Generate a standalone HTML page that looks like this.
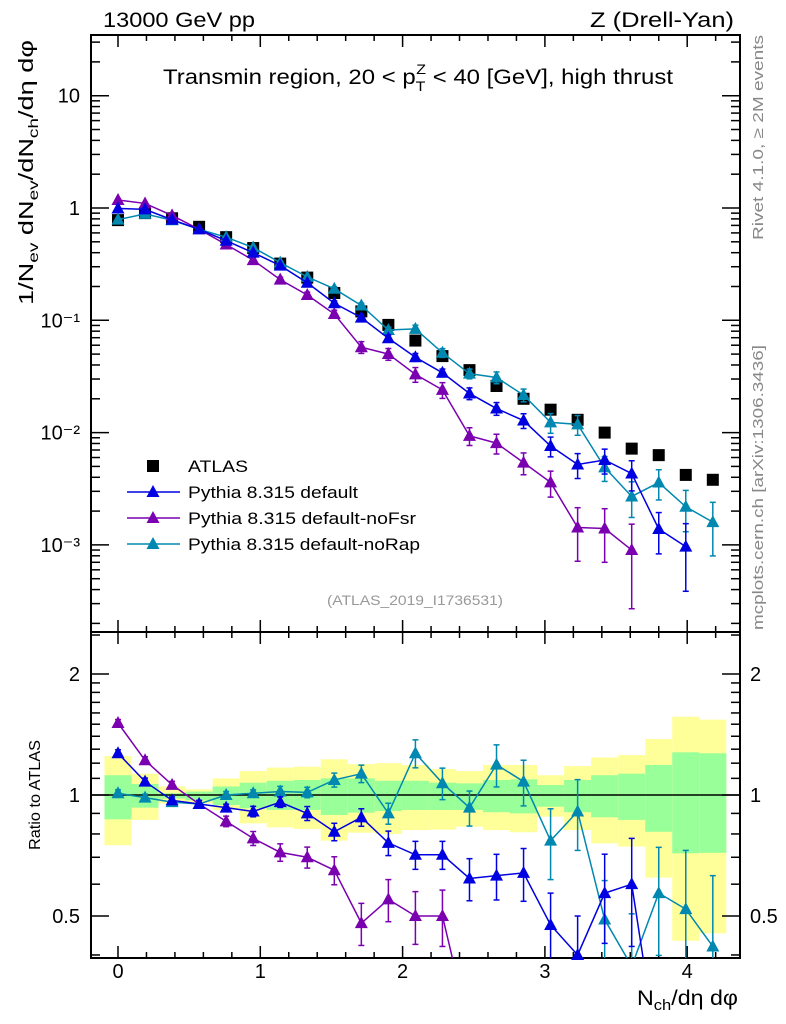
<!DOCTYPE html>
<html><head><meta charset="utf-8"><style>
html,body{margin:0;padding:0;background:#fff;overflow:hidden;width:786px;height:1024px;}
svg{display:block;}
svg text{font-family:"Liberation Sans",sans-serif;}
</style></head><body>
<svg id="chart" width="786" height="1024" xmlns="http://www.w3.org/2000/svg">
<g id="bands"></g>
<g id="grid"></g>
<g id="series"></g>
<text x="103" y="27" font-size="21" textLength="152" lengthAdjust="spacingAndGlyphs">13000 GeV pp</text>
<text x="590" y="27" font-size="21" textLength="144" lengthAdjust="spacingAndGlyphs">Z (Drell-Yan)</text>
<text x="163" y="84" font-size="21" textLength="510" lengthAdjust="spacingAndGlyphs">Transmin region, 20 &lt; p<tspan font-size="14" dy="7">T</tspan><tspan font-size="14" dx="-8" dy="-17">Z</tspan><tspan dy="10"> &lt; 40 [GeV], high thrust</tspan></text>
<text transform="translate(33,305) rotate(-90)" font-size="20" textLength="265" lengthAdjust="spacingAndGlyphs">1/N<tspan font-size="14" dy="5">ev</tspan><tspan dy="-5"> dN</tspan><tspan font-size="14" dy="5">ev</tspan><tspan dy="-5">/dN</tspan><tspan font-size="14" dy="5">ch</tspan><tspan dy="-5">/dη dφ</tspan></text>
<text transform="translate(40,850) rotate(-90)" font-size="16" textLength="110" lengthAdjust="spacingAndGlyphs">Ratio to ATLAS</text>
<text x="637" y="1005" font-size="21" textLength="101" lengthAdjust="spacingAndGlyphs">N<tspan font-size="15" dy="5">ch</tspan><tspan dy="-5">/dη dφ</tspan></text>
<text transform="translate(763,240) rotate(-90)" font-size="15" fill="#888" textLength="205" lengthAdjust="spacingAndGlyphs">Rivet 4.1.0, ≥ 2M events</text>
<text transform="translate(763,630) rotate(-90)" font-size="15" fill="#888" textLength="285" lengthAdjust="spacingAndGlyphs">mcplots.cern.ch [arXiv:1306.3436]</text>
<text x="327" y="605" font-size="14" fill="#999" textLength="176" lengthAdjust="spacingAndGlyphs">(ATLAS_2019_I1736531)</text>
<g id="legend"></g>
</svg>
<script>
const xCenters=[0,0.19,0.38,0.57,0.76,0.95,1.14,1.33,1.52,1.71,1.9,2.09,2.28,2.47,2.66,2.85,3.04,3.23,3.42,3.61,3.8,3.99,4.18];
const atlas=[0.78,0.90,0.81,0.68,0.55,0.44,0.32,0.24,0.175,0.12,0.091,0.066,0.048,0.036,0.026,0.020,0.016,0.013,0.010,0.0072,0.0063,0.0042,0.0038];
const ratioDefault=[1.27,1.08,0.97,0.95,0.93,0.91,0.96,0.90,0.81,0.88,0.76,0.71,0.71,0.62,0.63,0.64,0.475,0.40,0.57,0.60,0.22,0.23];
const errDefault=[0.02,0.02,0.02,0.02,0.02,0.03,0.03,0.04,0.05,0.05,0.07,0.08,0.08,0.12,0.13,0.15,0.2,0.25,0.25,0.3,0.4,0.6];
const ratioNoFsr=[1.51,1.22,1.06,0.95,0.86,0.78,0.72,0.70,0.65,0.48,0.55,0.50,0.50,0.26,0.31,0.27,0.225,0.11,0.14,0.125];
const errNoFsr=[0.02,0.02,0.02,0.02,0.03,0.04,0.05,0.06,0.08,0.12,0.12,0.15,0.16,0.18,0.2,0.22,0.26,0.5,0.5,0.7];
const ratioNoRap=[1.01,0.985,0.96,0.95,1.0,1.01,1.02,1.015,1.09,1.13,0.90,1.27,1.07,0.93,1.19,1.08,0.77,0.91,0.49,0.375,0.57,0.52,0.42];
const errNoRap=[0.02,0.02,0.02,0.02,0.02,0.02,0.03,0.03,0.04,0.05,0.06,0.08,0.09,0.1,0.12,0.13,0.2,0.2,0.25,0.35,0.3,0.4,0.5];
const greenUp=[1.12,1.065,1.01,1.02,1.05,1.073,1.085,1.09,1.10,1.10,1.085,1.085,1.073,1.069,1.09,1.094,1.059,1.09,1.12,1.13,1.188,1.277,1.27];
const greenDn=[0.87,0.93,0.98,0.97,0.944,0.927,0.918,0.918,0.892,0.904,0.912,0.918,0.918,0.918,0.906,0.90,0.935,0.906,0.88,0.867,0.81,0.716,0.718];
const yellowUp=[1.25,1.13,1.05,1.033,1.10,1.147,1.17,1.176,1.227,1.194,1.2,1.188,1.16,1.147,1.188,1.188,1.12,1.18,1.24,1.257,1.378,1.566,1.54];
const yellowDn=[0.75,0.867,0.953,0.953,0.918,0.85,0.831,0.823,0.77,0.806,0.80,0.818,0.82,0.834,0.818,0.808,0.883,0.818,0.758,0.744,0.623,0.434,0.453];
const mainTicks=["10","1","10⁻¹","10⁻²","10⁻³"];
const xTickLabels=["0","1","2","3","4"];
const ratioTickLabels=["2","1","0.5"];
const ratioTickVals=[2,1,0.5];

const L=91,R=740,T=35,MB=632,RB=958;
const X=v=>118+(v)*142.3;
const Y=v=>208-112.3*Math.log10(v);
const YR=v=>795-402*Math.log10(v);
const NS="http://www.w3.org/2000/svg";
function mk(tag,attrs,parent){const e=document.createElementNS(NS,tag);for(const k in attrs)e.setAttribute(k,attrs[k]);parent.appendChild(e);return e;}
const grid=document.getElementById('grid'),bands=document.getElementById('bands'),series=document.getElementById('series'),legend=document.getElementById('legend');
const hw=0.095;
xCenters.forEach((c,i)=>{
 const x0=Math.max(L+1,X(c-hw)),x1=X(c+hw);
 const clip=v=>Math.min(RB,Math.max(MB,v));
 let r=mk('rect',{x:x0,y:clip(YR(yellowUp[i])),width:x1-x0,height:clip(YR(yellowDn[i]))-clip(YR(yellowUp[i])),fill:'#ffff99'},bands);
 
 
 let g=mk('rect',{x:x0,y:clip(YR(greenUp[i])),width:x1-x0,height:clip(YR(greenDn[i]))-clip(YR(greenUp[i])),fill:'#99ff99'},bands);
 
 
});
[[T,MB],[MB,RB]].forEach(([a,b])=>{let f=mk('rect',{x:L,y:a,width:R-L,height:b-a,fill:'none',stroke:'#000','stroke-width':2},grid);
 
 });
let one=mk('line',{x1:L,x2:R,y1:YR(1),y2:YR(1),stroke:'#000','stroke-width':1.5},grid);


for(let k=-0.0;k<=4.4;k+=0.2){const v=Math.round(k*10)/10;if(X(v)<L||X(v)>R)continue;const maj=Math.abs(v-Math.round(v))<1e-6;const len=maj?12:6;
 [T,MB].forEach(y=>mk('line',{x1:X(v),x2:X(v),y1:y,y2:y+len,stroke:'#000','stroke-width':1.5},grid));
 [MB,RB].forEach(y=>mk('line',{x1:X(v),x2:X(v),y1:y,y2:y-len,stroke:'#000','stroke-width':1.5},grid));}
xTickLabels.forEach((t,i)=>{let e=mk('text',{x:X(i),y:978,'font-size':20,'text-anchor':'middle'},grid);e.textContent=t;
 
 });
for(let d=-4;d<=1;d++){for(let m=1;m<10;m++){const v=m*Math.pow(10,d);const y=Y(v);if(y<T||y>MB)continue;const len=m==1?18:9;
 mk('line',{x1:L,x2:L+len,y1:y,y2:y,stroke:'#000','stroke-width':1.5},grid);mk('line',{x1:R,x2:R-len,y1:y,y2:y,stroke:'#000','stroke-width':1.5},grid);}}
mainTicks.forEach((t,i)=>{let e=mk('text',{x:80,y:Y(Math.pow(10,1-i))+7,'font-size':20,'text-anchor':'end'},grid);e.textContent=t;
 
 });
[0.4,0.5,0.6,0.7,0.8,0.9,1,1.1,1.2,1.3,1.4,1.5,1.6,1.7,1.8,1.9,2,2.5].forEach(v=>{const y=YR(v);if(y<MB||y>RB)return;const maj=[0.5,1,2].includes(v);const len=maj?18:9;
 mk('line',{x1:L,x2:L+len,y1:y,y2:y,stroke:'#000','stroke-width':1.5},grid);mk('line',{x1:R,x2:R-len,y1:y,y2:y,stroke:'#000','stroke-width':1.5},grid);});
ratioTickLabels.forEach((t,i)=>{const y=YR(ratioTickVals[i])+7;
 let e=mk('text',{x:80,y:y,'font-size':20,'text-anchor':'end'},grid);e.textContent=t;
 
 
 let e2=mk('text',{x:750,y:y,'font-size':20},grid);e2.textContent=t;
 
 });
atlas.forEach((v,i)=>{let s=mk('rect',{x:X(xCenters[i])-6,y:Y(v)-6,width:12,height:12,fill:'#000'},series);
 
 });
function tri(x,y,col,p){return mk('polygon',{points:`${x},${y-7} ${x-6.5},${y+5} ${x+6.5},${y+5}`,fill:col},p);}
function drawSeries(ratios,errs,col,name){
 const g=mk('g',{},series);
 
 
 const clip=(y,a,b)=>Math.min(b,Math.max(a,y));
 let pm=[],pr=[];
 ratios.forEach((r,i)=>{const x=X(xCenters[i]);const v=r*atlas[i];const y=Y(v);pm.push(x+','+y);pr.push(x+','+YR(r));});
 mk('polyline',{points:pm.join(' '),fill:'none',stroke:col,'stroke-width':1.5},g);
 const cp=mk('clipPath',{id:'c'+name},g);mk('rect',{x:L,y:MB,width:R-L,height:RB-MB},cp);
 mk('polyline',{points:pr.join(' '),fill:'none',stroke:col,'stroke-width':1.5,'clip-path':`url(#c${name})`},g);
 ratios.forEach((r,i)=>{const x=X(xCenters[i]);const v=r*atlas[i];const e=errs[i];
  const yt=Y(v*(1+e)),yb=clip(Y(Math.max(v*(1-e),1e-9)),T,MB);
  mk('line',{x1:x,x2:x,y1:yt,y2:yb,stroke:col,'stroke-width':1.5},g);
  mk('line',{x1:x-3,x2:x+3,y1:yt,y2:yt,stroke:col,'stroke-width':1.5},g);
  if(yb<MB)mk('line',{x1:x-3,x2:x+3,y1:yb,y2:yb,stroke:col,'stroke-width':1.5},g);
  const m=tri(x,Y(v),col,g);
  
  
  const rt=YR(r*(1+e)),rb=YR(Math.max(r*(1-e),1e-9));
  const a=clip(rt,MB,RB),b=clip(rb,MB,RB);
  if(b>a){mk('line',{x1:x,x2:x,y1:a,y2:b,stroke:col,'stroke-width':1.5},g);
   if(rt>=MB&&rt<=RB)mk('line',{x1:x-3,x2:x+3,y1:rt,y2:rt,stroke:col,'stroke-width':1.5},g);
   if(rb>=MB&&rb<=RB)mk('line',{x1:x-3,x2:x+3,y1:rb,y2:rb,stroke:col,'stroke-width':1.5},g);}
  const ry=YR(r);if(ry>=MB&&ry<=RB+4){const mr=tri(x,ry,col,g);
   
   }
 });
}
drawSeries(ratioNoRap,errNoRap,'#0088b0','pythia-norap');
drawSeries(ratioNoFsr,errNoFsr,'#7a00b0','pythia-nofsr');
drawSeries(ratioDefault,errDefault,'#0000e0','pythia-default');
const legNames=["ATLAS","Pythia 8.315 default","Pythia 8.315 default-noFsr","Pythia 8.315 default-noRap"];
const legCols=["#000","#0000e0","#7a00b0","#0088b0"];
const legLens=[60,170,228,232];
legNames.forEach((n,i)=>{const y=466+i*26;
 const it=mk('g',{},legend);
 
 
 if(i==0)mk('rect',{x:147,y:y-6,width:12,height:12,fill:'#000'},it);
 else{mk('line',{x1:127,x2:180,y1:y,y2:y,stroke:legCols[i],'stroke-width':1.5},it);tri(153,y,legCols[i],it);}
 const t=mk('text',{x:188,y:y+6,'font-size':17,textLength:legLens[i],lengthAdjust:'spacingAndGlyphs'},it);t.textContent=n;});
</script>
</body></html>
